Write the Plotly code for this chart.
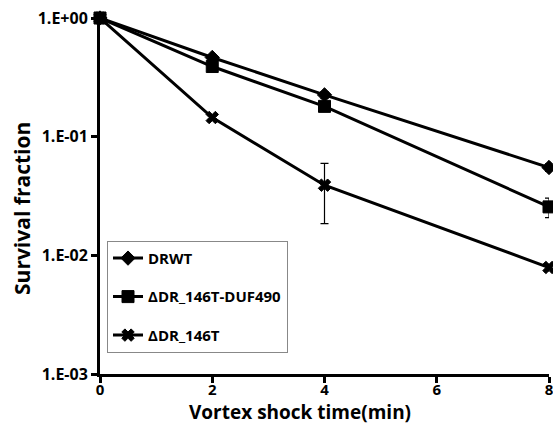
import plotly.graph_objects as go

times = [0, 2, 4, 8]
series_names = ["DRWT", "ΔDR_146T-DUF490", "ΔDR_146T"]
drwt = [1.0, 0.465, 0.225, 0.055]
drwt_err = [0.0, 0.02, 0.015, 0.004]
duf490 = [1.0, 0.39, 0.18, 0.0256]
duf490_err = [0.0, 0.02, 0.012, 0.0048]
dr146t = [1.0, 0.145, 0.039, 0.0079]
dr146t_err = [0.0, 0.008, 0.0205, 0.0005]

y_tickvals = [1, 0.1, 0.01, 0.001]
y_ticktext = ["<b>1.E+00</b>", "<b>1.E-01</b>", "<b>1.E-02</b>", "<b>1.E-03</b>"]
x_tickvals = [0, 2, 4, 6, 8]
x_ticktext = ["<b>0</b>", "<b>2</b>", "<b>4</b>", "<b>6</b>", "<b>8</b>"]

FONT = "Open Sans"
symbols = ["diamond", "square", "x"]
sizes = [11, 12, 11]
values = [drwt, duf490, dr146t]
errs = [drwt_err, duf490_err, dr146t_err]

fig = go.Figure()
for i, name in enumerate(series_names):
    fig.add_trace(go.Scatter(
        x=times, y=values[i], name=f"<b>{name}</b>", mode="lines+markers",
        legendgroup=f"g{i}",
        line=dict(color="black", width=3),
        marker=dict(symbol=symbols[i], size=sizes[i], color="black",
                    line=dict(color="black", width=1)),
        error_y=dict(type="data", array=errs[i], visible=True,
                     color="black", thickness=1.2, width=4),
        cliponaxis=False,
    ))

fig.update_layout(
    width=553, height=426,
    margin=dict(l=100, r=4, t=18, b=52, autoexpand=False),
    paper_bgcolor="white", plot_bgcolor="white",
    font=dict(family=FONT, color="black"),
    showlegend=True,
    legend=dict(
        x=0.0156, y=0.374, xanchor="left", yanchor="top",
        bordercolor="#888888", borderwidth=1, bgcolor="white",
        font=dict(family=FONT, size=15, color="black"),
        traceorder="grouped", tracegroupgap=16,
        itemwidth=30,
    ),
    xaxis=dict(
        range=[0, 8], tickvals=x_tickvals, ticktext=x_ticktext,
        showline=True, linecolor="black", linewidth=3,
        ticks="outside", ticklen=6, tickwidth=2.5, tickcolor="black",
        showgrid=False, zeroline=False, automargin=False,
        ticklabeloverflow="allow", ticklabelstandoff=-6,
        tickfont=dict(family=FONT, size=15),
    ),
    yaxis=dict(
        type="log", range=[-3, 0],
        tickvals=y_tickvals, ticktext=y_ticktext,
        showline=True, linecolor="black", linewidth=3,
        ticks="outside", ticklen=6, tickwidth=2.5, tickcolor="black",
        showgrid=False, zeroline=False, automargin=False,
        ticklabeloverflow="allow",
        tickfont=dict(family=FONT, size=16),
    ),
    annotations=[
        dict(text="<b>Vortex shock time(min)</b>", xref="paper", yref="paper",
             x=0.445, y=-0.108, xanchor="center", yanchor="middle",
             showarrow=False, font=dict(family=FONT, size=19)),
        dict(text="<b>Survival fraction</b>", xref="paper", yref="paper",
             x=-0.174, y=0.466, xanchor="center", yanchor="middle", textangle=-90,
             showarrow=False, font=dict(family=FONT, size=21)),
    ],
)

fig.write_html("out.html", config={"displayModeBar": False},
               post_script="document.body.style.margin='0';document.body.style.overflow='hidden';")
